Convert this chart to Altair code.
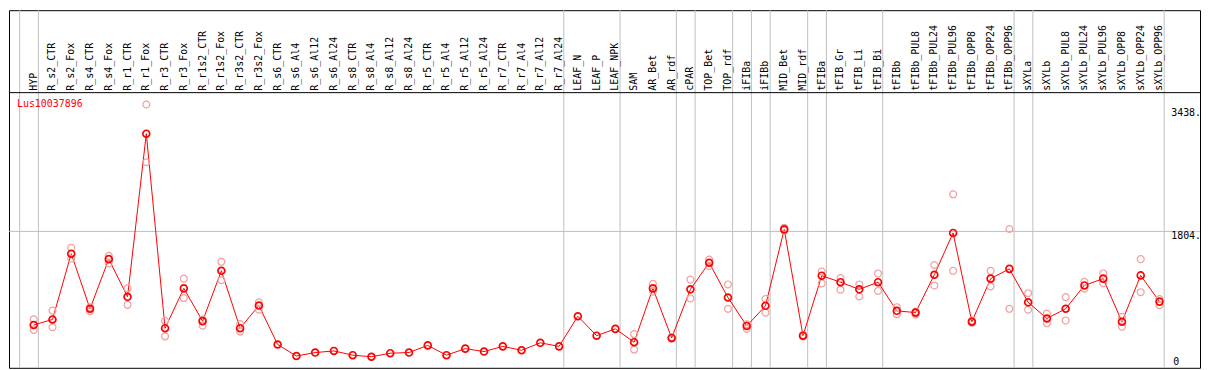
import altair as alt
import pandas as pd

categories = [
    "HYP",
    "R_s2_CTR", "R_s2_Fox", "R_s4_CTR", "R_s4_Fox", "R_r1_CTR", "R_r1_Fox",
    "R_r3_CTR", "R_r3_Fox", "R_r1s2_CTR", "R_r1s2_Fox", "R_r3s2_CTR", "R_r3s2_Fox",
    "R_s6_CTR", "R_s6_Al4", "R_s6_Al12", "R_s6_Al24",
    "R_s8_CTR", "R_s8_Al4", "R_s8_Al12", "R_s8_Al24",
    "R_r5_CTR", "R_r5_Al4", "R_r5_Al12", "R_r5_Al24",
    "R_r7_CTR", "R_r7_Al4", "R_r7_Al12", "R_r7_Al24",
    "LEAF_N", "LEAF_P", "LEAF_NPK",
    "SAM", "AR_Bet", "AR_rdf",
    "cPAR",
    "TOP_Bet", "TOP_rdf",
    "iFIBa",
    "iFIBb",
    "MID_Bet", "MID_rdf",
    "tFIBa",
    "tFIB_Gr", "tFIB_Li", "tFIB_Bi",
    "tFIBb", "tFIBb_PUL8", "tFIBb_PUL24", "tFIBb_PUL96", "tFIBb_OPP8", "tFIBb_OPP24", "tFIBb_OPP96",
    "sXYLa",
    "sXYLb", "sXYLb_PUL8", "sXYLb_PUL24", "sXYLb_PUL96", "sXYLb_OPP8", "sXYLb_OPP24", "sXYLb_OPP96",
]

means = [
    562,
    635, 1508, 777, 1436, 936, 3101,
    519, 1048, 613, 1281, 519, 820,
    303, 150, 196, 217,
    161, 140, 187, 196,
    291, 161, 248, 209,
    278, 226, 325, 278,
    678, 420, 510,
    333, 1048, 390,
    1035,
    1388, 927,
    549,
    816,
    1831, 420,
    1216,
    1130, 1035, 1130,
    750, 726, 1229, 1784, 605, 1177, 1307,
    863,
    648, 777, 1087, 1177, 605, 1220, 872,
]

rep_high = [
    638,
    753, 1586, 798, 1479, 1048, 3489,
    617, 1177, 635, 1401, 575, 863,
    None, None, None, None,
    None, None, None, None,
    None, None, None, None,
    None, None, None, None,
    None, None, None,
    441, 1108, 400,
    1164,
    1431, 1100,
    571,
    906,
    1853, 430,
    1272,
    1185, 1100, 1246,
    798, 740, 1358, 2296, 620, 1281, 1836,
    984,
    713, 932, 1134, 1246, 669, 1436, 906,
]

rep_low = [
    497,
    532, 1444, 747, 1380, 829, 2722,
    411, 919, 553, 1156, 475, 764,
    None, None, None, None,
    None, None, None, None,
    None, None, None, None,
    None, None, None, None,
    None, None, None,
    235, 1005, 380,
    914,
    1345, 777,
    510,
    726,
    1815, 410,
    1113,
    1030, 940, 1014,
    704, 700, 1087, 1281, 590, 1074, 777,
    764,
    584, 622, 1043, 1117, 540, 997, 824,
]

group_sizes = [1, 28, 3, 3, 1, 2, 1, 1, 2, 1, 3, 7, 1, 7]

tick_values = [1804, 3438]
tick_labels = ["1804.", "3438."]
zero_value = [0]
zero_label = ["0"]
gene_name = "Lus10037896"

# ---- tables built from the arrays ----
main_df = pd.DataFrame({"idx": list(range(len(categories))), "name": categories, "value": means})

rep_rows = []
for i, (hi, lo) in enumerate(zip(rep_high, rep_low)):
    if hi is not None:
        rep_rows.append({"idx": i, "value": hi})
    if lo is not None:
        rep_rows.append({"idx": i, "value": lo})
rep_df = pd.DataFrame(rep_rows)

sep_pos = [-0.75]
acc = 0
for g in group_sizes:
    acc += g
    sep_pos.append(acc - 1 + 0.25)
sep_df = pd.DataFrame({"pos": sep_pos})

grid_df = pd.DataFrame({"v": [1804]})
tick_df = pd.DataFrame({"v": tick_values, "label": tick_labels})
zero_df = pd.DataFrame({"v": zero_value, "label": zero_label})
gene_df = pd.DataFrame({"label": [gene_name]})

W, H = 1199, 360
FONT = "DejaVu Sans Mono"

xs = alt.Scale(domain=[0, 60], range=[24.9, 1158.2], nice=False, zero=False)
ys = alt.Scale(domain=[0, 1804], range=[359.5, 222.7], nice=False, zero=False)

seps = alt.Chart(sep_df).mark_rule(color="#c0c0c0", strokeWidth=1).encode(
    x=alt.X("pos:Q", scale=xs, axis=None),
    y=alt.value(0),
    y2=alt.value(H),
)

grid = alt.Chart(grid_df).mark_rule(color="#c0c0c0", strokeWidth=1).encode(
    y=alt.Y("v:Q", scale=ys, axis=None),
    x=alt.value(0),
    x2=alt.value(W),
)

header_line = alt.Chart(gene_df).mark_rule(color="black", strokeWidth=1).encode(
    y=alt.value(83),
    x=alt.value(0),
    x2=alt.value(W),
)

labels = alt.Chart(main_df).mark_text(
    angle=270, align="left", baseline="middle", font=FONT, fontSize=10, color="black"
).encode(
    x=alt.X("idx:Q", scale=xs, axis=None),
    y=alt.value(81),
    text="name:N",
)

line = alt.Chart(main_df).mark_line(color="#ff0000", strokeWidth=1).encode(
    x=alt.X("idx:Q", scale=xs, axis=None),
    y=alt.Y("value:Q", scale=ys, axis=None),
)

rep_pts = alt.Chart(rep_df).mark_point(
    shape="circle", filled=False, color="#f0a0a0", size=48, strokeWidth=1.2, opacity=1
).encode(
    x=alt.X("idx:Q", scale=xs, axis=None),
    y=alt.Y("value:Q", scale=ys, axis=None),
)

mean_pts = alt.Chart(main_df).mark_point(
    shape="circle", filled=False, color="#ff0000", size=48, strokeWidth=1.7, opacity=1
).encode(
    x=alt.X("idx:Q", scale=xs, axis=None),
    y=alt.Y("value:Q", scale=ys, axis=None),
)

ticks = alt.Chart(tick_df).mark_text(
    align="left", baseline="top", font=FONT, fontSize=10, color="black"
).encode(
    x=alt.value(1170),
    y=alt.Y("v:Q", scale=ys, axis=None),
    text="label:N",
)

zero_tick = alt.Chart(zero_df).mark_text(
    align="left", baseline="bottom", font=FONT, fontSize=10, color="black", dx=2
).encode(
    x=alt.value(1170),
    y=alt.Y("v:Q", scale=ys, axis=None),
    text="label:N",
)

gene = alt.Chart(gene_df).mark_text(
    align="left", baseline="middle", font=FONT, fontSize=10, color="#ff0000"
).encode(
    x=alt.value(8),
    y=alt.value(94),
    text="label:N",
)

chart = alt.layer(
    seps, grid, header_line, labels, line, rep_pts, mean_pts, ticks, zero_tick, gene
).properties(
    width=W,
    height=H,
    padding={"left": 1, "top": 1, "right": 1, "bottom": 1},
    autosize=alt.AutoSizeParams(type="none"),
    background="white",
).configure_view(
    stroke="black", strokeWidth=1
)

chart.save("out.html", embed_options={"renderer": "svg", "actions": False})
